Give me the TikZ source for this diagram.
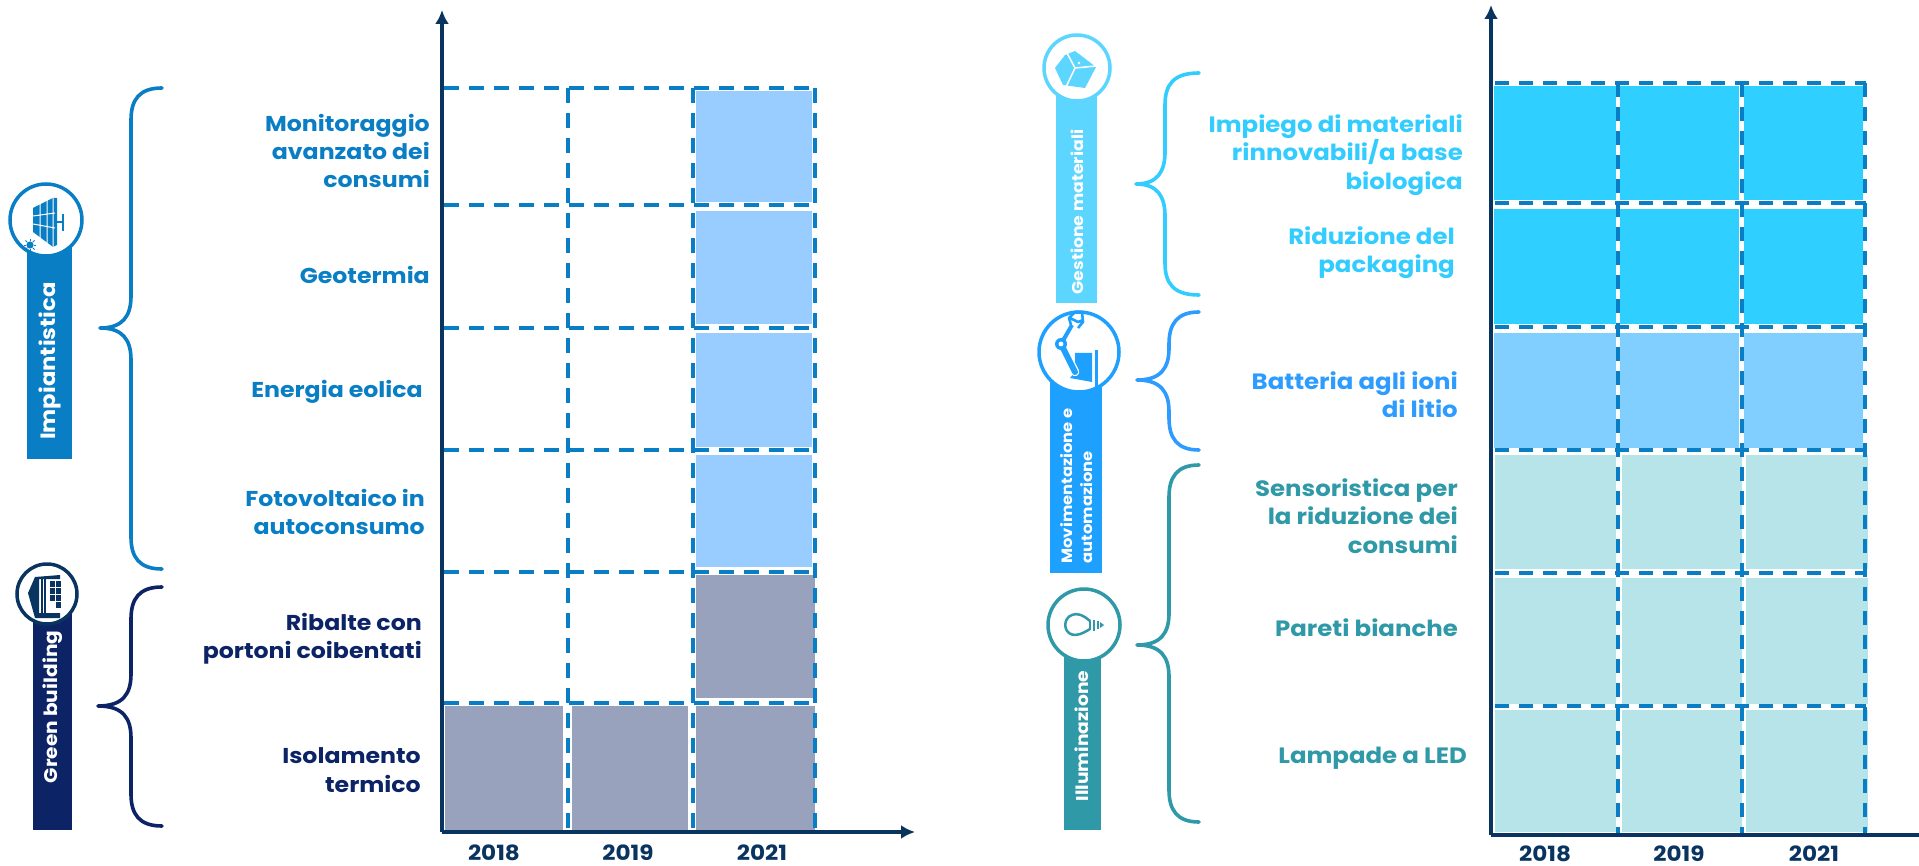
\documentclass[tikz,border=0pt]{standalone}
\usepackage{fontspec}
\setmainfont{Poppins}[FakeStretch=1.1]
\definecolor{cblue}{HTML}{0A7EC4}
\definecolor{cnavy}{HTML}{0C2466}
\definecolor{caxis}{HTML}{0A3460}
\definecolor{ccyan}{HTML}{33CCFF}
\definecolor{cmid}{HTML}{2E9CFF}
\definecolor{cteal}{HTML}{2F99A8}
\definecolor{cellblue}{HTML}{99CCFF}
\definecolor{cellgray}{HTML}{98A2BD}
\definecolor{cellcyan}{HTML}{2FCFFF}
\definecolor{cellmid}{HTML}{80CFFF}
\definecolor{cellteal}{HTML}{B7E4E9}
\definecolor{bancyan}{HTML}{5CD6FF}
\definecolor{banmid}{HTML}{1EA0FF}
\usetikzlibrary{arrows.meta}
\tikzset{
  x=1pt,y=-1pt,
  axisline/.style={draw=caxis,line width=3.6pt,-{Latex[length=14pt,width=14pt]}},
  griddash/.style={draw=cblue,line width=3.2pt,dash pattern=on 15pt off 10pt},
  griddashr/.style={draw=cblue,line width=3.2pt,dash pattern=on 14pt off 10pt},
  rowlab/.style={font=\bfseries\fontsize{21.5}{28.3}\selectfont,anchor=east,align=right,inner sep=0pt},
  rowlabr/.style={font=\bfseries\fontsize{22.2}{28.3}\selectfont,anchor=east,align=right,inner sep=0pt},
  yearlab/.style={font=\bfseries\fontsize{21}{22}\selectfont,text=caxis,inner sep=0pt},
  banlab/.style={font=\bfseries\fontsize{20.7}{21}\selectfont,text=white,rotate=90,inner sep=0pt},
  bracel/.style={line width=3.6pt,line cap=round,line join=round},
  ring/.style={fill=white,line width=3.5pt},
}
\newcommand{\cellbox}[5]{\fill[#5] (#1,#2) rectangle (#3,#4);}
\newcommand{\bracepath}[7][]{% tip x, tip y, spine x, end x, top y, bottom y
  \draw[bracel,#1] (#5,#6) .. controls (#4+8,#6) and (#4,#6+12) .. (#4,#6+32)
    -- (#4,#3-32) .. controls (#4,#3-12) and (#4-8,#3) .. (#2,#3)
    .. controls (#4-8,#3) and (#4,#3+12) .. (#4,#3+32)
    -- (#4,#7-32) .. controls (#4,#7-12) and (#4+8,#7) .. (#5,#7);}
\begin{document}
\begin{tikzpicture}
\useasboundingbox (0,0) rectangle (1919,866);
% ---------- left chart cells
\foreach \a/\b in {91/202,211/324,333/447,455/567}{\cellbox{696}{\a}{812}{\b}{cellblue}}
\cellbox{696}{575}{815}{698}{cellgray}
\cellbox{445}{706}{563}{830}{cellgray}
\cellbox{572}{706}{688}{830}{cellgray}
\cellbox{696}{706}{815}{830}{cellgray}
% grid
\foreach \y in {88,205,328,450,572,703}{\draw[griddash] (444,\y) -- (815,\y);}
\foreach \x in {568,693,815}{\draw[griddash] (\x,88) -- (\x,832);}
% axes
\coordinate (lo) at (442,832); \coordinate (ly) at (442,10); \coordinate (lx) at (915,832);
\draw[axisline] (lo) -- (ly);
\draw[axisline] (lo) -- (lx);
% ---------- right chart cells
\foreach \a/\b in {86/200,209/324}{
  \cellbox{1494}{\a}{1616}{\b}{cellcyan}\cellbox{1620}{\a}{1739}{\b}{cellcyan}\cellbox{1744}{\a}{1863}{\b}{cellcyan}}
\cellbox{1494}{333}{1616}{448}{cellmid}\cellbox{1620}{333}{1739}{448}{cellmid}\cellbox{1744}{333}{1863}{448}{cellmid}
\foreach \a/\b in {455/569,578/704,710/832}{
  \cellbox{1495}{\a}{1616}{\b}{cellteal}\cellbox{1622}{\a}{1742}{\b}{cellteal}\cellbox{1746}{\a}{1868}{\b}{cellteal}}
\foreach \y in {83,203,327,450,573,706}{\draw[griddashr] (1495,\y) -- (1866,\y);}
\foreach \x in {1618,1742,1865}{\draw[griddashr] (\x,83) -- (\x,835);}
\coordinate (ro) at (1491,835); \coordinate (ry) at (1491,5); \coordinate (rx) at (1919,835);
\draw[axisline] (ro) -- (ry);
\draw[draw=caxis,line width=3.6pt] (ro) -- (rx);
% ---------- row labels left
\node[rowlab,text=cblue] (l1) at (430,151) {Monitoraggio\\avanzato dei\\consumi};
\node[rowlab,text=cblue] (l2) at (430,275) {Geotermia};
\node[rowlab,text=cblue] (l3) at (423,392) {Energia eolica};
\node[rowlab,text=cblue] (l4) at (425,512) {Fotovoltaico in\\autoconsumo};
\node[rowlab,text=cnavy] (l5) at (422,639) {Ribalte con\\portoni coibentati};
\node[rowlab,text=cnavy] (l6) at (421,770) {Isolamento\\termico};
% ---------- row labels right
\node[rowlabr,text=ccyan] (r1) at (1463,155) {Impiego di materiali\\rinnovabili/a base\\biologica};
\node[rowlabr,text=ccyan] (r2) at (1455,253) {Riduzione del\\packaging};
\node[rowlabr,text=cmid] (r3) at (1458,395) {Batteria agli ioni\\di litio};
\node[rowlabr,text=cteal] (r4) at (1458,516) {Sensoristica per\\la riduzione dei\\consumi};
\node[rowlabr,text=cteal] (r5) at (1458,628) {Pareti bianche};
\node[rowlabr,text=cteal] (r6) at (1467,758) {Lampade a LED};
% ---------- years
\node[yearlab] (y1) at (494,853) {2018};
\node[yearlab] (y2) at (628,853) {2019};
\node[yearlab] (y3) at (762,853) {2021};
\node[yearlab] (y4) at (1545,854) {2018};
\node[yearlab] (y5) at (1679,854) {2019};
\node[yearlab] (y6) at (1814,854) {2021};
% ---------- braces
\bracepath[draw=cblue]{100}{328}{131}{162}{88}{569}
\bracepath[draw=cnavy]{98}{706}{131}{162}{587}{826}
\bracepath[draw=ccyan]{1136}{184}{1165}{1199}{73}{295}
\bracepath[draw=cmid]{1137}{380}{1169}{1199}{312}{450}
\bracepath[draw=cteal]{1137}{645}{1169}{1199}{465}{822}
% ---------- banners
\fill[cblue] (27,220) rectangle (72,459);
\node[banlab] (b1) at (50,361) {Impiantistica};
\fill[cnavy] (33,594) rectangle (72,830);
\node[banlab,font=\bfseries\fontsize{18.3}{21}\selectfont] (b2) at (53,707) {Green building};
\fill[bancyan] (1056,68) rectangle (1097,303);
\node[banlab,font=\bfseries\fontsize{15.7}{20}\selectfont] (b3) at (1077,212) {Gestione materiali};
\fill[banmid] (1050,352) rectangle (1102,573);
\node[banlab,font=\bfseries\fontsize{14.9}{20}\selectfont,align=left] (b4) at (1077,486) {Movimentazione e\\automazione};
\fill[cteal] (1064,625) rectangle (1101,830);
\node[banlab,font=\bfseries\fontsize{17}{20}\selectfont] (b5) at (1082,736) {Illuminazione};
% ---------- icon: solar panel
\draw[ring,draw=cblue] (46,220) circle (36);
\fill[cblue] (33,208) -- (53,198) -- (57,198) -- (57,245) -- (53,247) -- (33,232) -- cycle;
\draw[white,line width=1pt] (40,204) -- (40,238) (47,200) -- (47,243) (53,198) -- (53,247)
  (33,216) -- (55,213) (33,224) -- (55,228);
\draw[cblue,line width=2.5pt] (57,222) -- (63,222) (63,214) -- (63,231);
\fill[cblue] (30,245) circle (3.6);
\foreach \r in {0,45,...,315}{\draw[cblue,line width=0.9pt] (30,245) ++(\r:4) -- ++(\r:2.4);}
% ---------- icon: building
\draw[ring,draw=caxis] (47,594) circle (30);
\fill[caxis] (28,593) -- (35,577) -- (60,575) -- (60,579) -- (39,579) -- (39,613) -- (60,613) -- (60,618) -- (35,618) -- cycle;
\draw[caxis,line width=1.2pt] (42,579) -- (42,613) (45,579) -- (45,613);
\foreach \i in {0,1}{\foreach \j in {0,1,2}{\fill[caxis] (49.5+\i*6.2,581+\j*7) rectangle ++(5,6);}}
\fill[caxis] (56,602) rectangle ++(4.5,6);
% ---------- icon: box
\draw[ring,draw=bancyan] (1077,68) circle (33);
\fill[bancyan] (1075,51) -- (1096,67) -- (1085,88) -- (1063,85) -- (1055,68) -- (1065,55) -- cycle;
\draw[white,line width=1.5pt] (1067,53) -- (1075,68) -- (1066,87) (1075,68) -- (1096,66);
\fill[white] (1079,63) circle (1.4);
% ---------- icon: robot
\draw[ring,draw=banmid] (1079,352) circle (40);
\fill[banmid] (1075,353) -- (1092,353) -- (1092,382) -- (1070,378) -- (1075,372) -- cycle;
\draw[banmid,line width=3pt] (1096,350) -- (1096,387);
\draw[white,line width=8.5pt,line cap=round] (1061,344) -- (1075,372);
\draw[banmid,line width=6pt,line cap=round] (1061,344) -- (1075,372);
\draw[banmid,line width=4pt] (1061,344) -- (1072,325);
\fill[banmid] (1061,344) circle (6);\fill[white] (1061,344) circle (2.4);
\draw[banmid,line width=2.6pt,line join=round] (1071,325) -- (1069,318) -- (1075,312) -- (1082,312) -- (1083,322) -- (1078,328) (1070,318) -- (1078,322) -- (1083,320);
% ---------- icon: bulb
\draw[ring,draw=cteal] (1084,625) circle (36);
\draw[cteal,line width=2.5pt,line join=round] (1090,621) .. controls (1082,614) and (1076,613) .. (1072,615)
  .. controls (1063,618) and (1063,632) .. (1072,634.5) .. controls (1076,636) and (1082,634) .. (1090,629);
\draw[cteal,line width=2.5pt] (1090,620) -- (1090,630) (1094,620) -- (1094,631) (1098,621) -- (1098,629);
\fill[cteal] (1100,622) -- (1104,625) -- (1100,628) -- cycle;
\end{tikzpicture}
\end{document}
